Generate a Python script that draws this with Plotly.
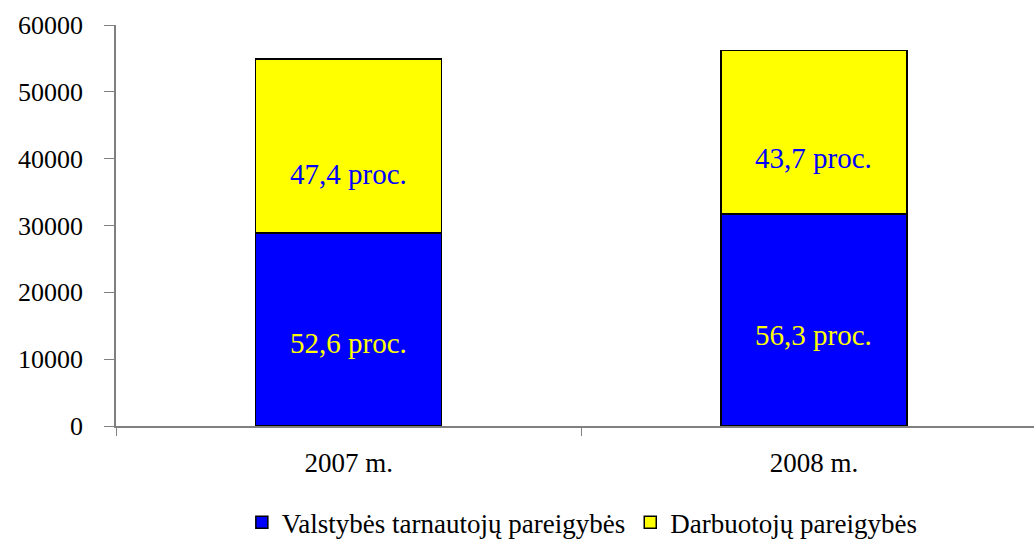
import plotly.graph_objects as go

categories = ["2007 m.", "2008 m."]
valstybes = [28900, 31700]
darbuotoju = [26000, 24500]
valstybes_labels = ["52,6 proc.", "56,3 proc."]
darbuotoju_labels = ["47,4 proc.", "43,7 proc."]
series_names = ["Valstybės tarnautojų pareigybės", "Darbuotojų pareigybės"]
y_ticks = [0, 10000, 20000, 30000, 40000, 50000, 60000]

FONT = "Liberation Serif"

fig = go.Figure()
fig.add_trace(go.Bar(
    x=categories, y=valstybes, name=series_names[0],
    marker=dict(color="#0000FF", line=dict(color="black", width=1.5)),
    width=0.4,
))
fig.add_trace(go.Bar(
    x=categories, y=darbuotoju, name=series_names[1],
    marker=dict(color="#FFFF00", line=dict(color="black", width=1.5)),
    width=0.4,
))

for i, c in enumerate(categories):
    fig.add_annotation(x=c, y=valstybes[i] * 0.43, text=valstybes_labels[i],
                       showarrow=False, font=dict(family=FONT, size=29, color="#FFFF00"))
    fig.add_annotation(x=c, y=valstybes[i] + darbuotoju[i] * 0.34, text=darbuotoju_labels[i],
                       showarrow=False, font=dict(family=FONT, size=29, color="#0000FF"))

fig.update_layout(
    barmode="stack",
    width=1034, height=543,
    margin=dict(l=116, r=0, t=25, b=117, autoexpand=False),
    paper_bgcolor="white", plot_bgcolor="white",
    font=dict(family=FONT, color="black"),
    showlegend=True,
    legend=dict(orientation="h", x=0.508, xanchor="center", y=-0.18, yanchor="top",
                font=dict(family=FONT, size=27, color="black"),
                itemwidth=30, traceorder="normal"),
    bargap=0.6,
)
fig.update_xaxes(
    range=[-0.5, 1.473], showline=True, linecolor="#808080", linewidth=1.5,
    ticks="outside", tickson="boundaries", ticklen=8, tickcolor="#808080",
    showgrid=False, tickfont=dict(family=FONT, size=27, color="black"),
    ticklabelstandoff=12, automargin=False,
)
fig.update_yaxes(
    range=[0, 60000], tickvals=y_ticks, showline=True, linecolor="#808080", linewidth=1.5,
    ticks="outside", ticklen=10, tickcolor="#808080", showgrid=False, zeroline=False,
    tickfont=dict(family=FONT, size=26, color="black"), tickformat="d",
    ticklabelstandoff=16, automargin=False,
)

fig.write_html("out.html",
               config={"displayModeBar": False},
               post_script="document.body.style.margin='0';document.body.style.overflow='hidden';")
